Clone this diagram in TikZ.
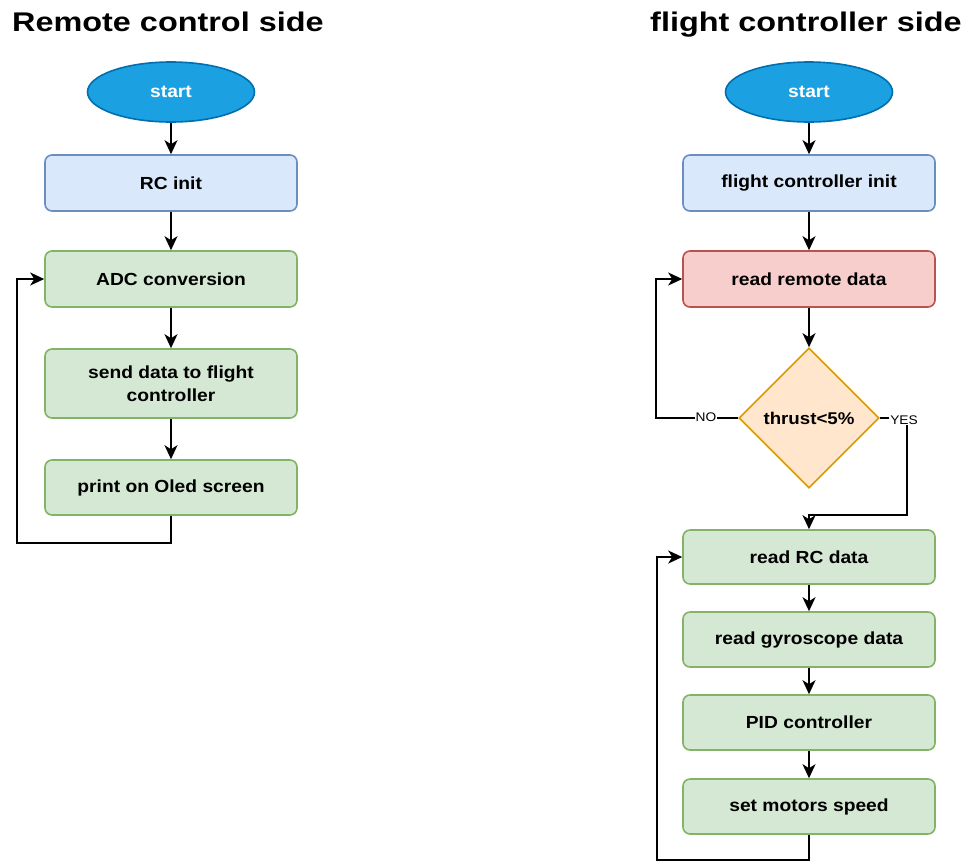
\documentclass[tikz,border=0pt]{standalone}
\usepackage{fontspec}
\setmainfont[FakeStretch=1.1]{Liberation Sans}
\newfontfamily\titlefont[FakeStretch=1.2]{Liberation Sans}
\usetikzlibrary{arrows.meta,shapes.geometric}
\definecolor{startfill}{HTML}{1BA1E2}
\definecolor{startdraw}{HTML}{006EAF}
\definecolor{bluefill}{HTML}{DAE8FC}
\definecolor{bluedraw}{HTML}{6C8EBF}
\definecolor{greenfill}{HTML}{D5E8D4}
\definecolor{greendraw}{HTML}{82B366}
\definecolor{redfill}{HTML}{F8CECC}
\definecolor{reddraw}{HTML}{B85450}
\definecolor{orangefill}{HTML}{FFE6CC}
\definecolor{orangedraw}{HTML}{D79B00}
\begin{document}
\begin{tikzpicture}[x=1pt,y=-1pt,
  box/.style={rectangle, rounded corners=7pt, minimum width=252pt, minimum height=56pt,
    line width=1.6pt, inner sep=0pt, align=center, font=\fontsize{17.5}{23}\selectfont\bfseries},
  bluebox/.style={box, fill=bluefill, draw=bluedraw},
  greenbox/.style={box, fill=greenfill, draw=greendraw},
  redbox/.style={box, fill=redfill, draw=reddraw},
  startnode/.style={ellipse, minimum width=167pt, minimum height=60pt, inner sep=0pt,
    fill=startfill, draw=startdraw, line width=1.6pt, text=white, font=\fontsize{17.5}{20}\selectfont\bfseries},
  decision/.style={diamond, minimum width=140pt, minimum height=140pt, inner sep=0pt, aspect=1,
    fill=orangefill, draw=orangedraw, line width=1.6pt, font=\fontsize{17}{20}\selectfont\bfseries},
  title/.style={anchor=base west, inner sep=0pt, font=\titlefont\fontsize{27}{32}\selectfont\bfseries},
  lbl/.style={fill=white, inner sep=1pt, font=\fontsize{12.5}{14}\selectfont},
  conn/.style={line width=2pt, -{Stealth[length=14pt,width=13pt,inset=4pt]}}
]
\useasboundingbox (0,0) rectangle (973,863);

% titles
\node[title] (t1) at (12,31) {Remote control side};
\node[title] (t2) at (650,31) {flight controller side};

% left column
\node[startnode] (s1) at (171,92) {start};
\node[bluebox] (rcinit) at (171,183) {RC init};
\node[greenbox] (adc) at (171,279) {ADC conversion};
\node[greenbox, minimum height=69pt] (send) at (171,383.5) {send data to flight\\controller};
\node[greenbox, minimum height=55pt] (print) at (171,487.5) {print on Oled screen};

\draw[conn] (s1) -- (rcinit);
\draw[conn] (rcinit) -- (adc);
\draw[conn] (adc) -- (send);
\draw[conn] (send) -- (print);
\coordinate (l1) at (171,543);
\coordinate (l2) at (17,543);
\coordinate (l3) at (17,279);
\draw[conn] (print.south) -- (l1) -- (l2) -- (l3) -- (adc.west);

% right column
\node[startnode] (s2) at (809,92) {start};
\node[bluebox] (fcinit) at (809,183) {flight controller init};
\node[redbox] (remote) at (809,279) {read remote data};
\node[decision] (thr) at (809,418) {thrust<5\%};
\node[greenbox, minimum height=54pt] (rcdata) at (809,557) {read RC data};
\node[greenbox, minimum height=55pt] (gyro) at (809,639.5) {read gyroscope data};
\node[greenbox, minimum height=55pt] (pid) at (809,722.5) {PID controller};
\node[greenbox, minimum height=55pt] (motors) at (809,806.5) {set motors speed};

\draw[conn] (s2) -- (fcinit);
\draw[conn] (fcinit) -- (remote);
\draw[conn] (remote) -- (thr);

% NO branch
\coordinate (n1) at (656,418);
\coordinate (n2) at (656,279);
\draw[conn] (thr.west) -- (n1) -- (n2) -- (remote.west);
\node[lbl] (nolbl) at (706,417) {NO};

% YES branch
\coordinate (y1) at (907,418);
\coordinate (y2) at (907,515);
\coordinate (y3) at (809,515);
\draw[conn] (thr.east) -- (y1) -- (y2) -- (y3) -- (rcdata.north);
\node[lbl] (yeslbl) at (904,420) {YES};

\draw[conn] (rcdata) -- (gyro);
\draw[conn] (gyro) -- (pid);
\draw[conn] (pid) -- (motors);

\coordinate (m1) at (809,860);
\coordinate (m2) at (657,860);
\coordinate (m3) at (657,557);
\draw[conn] (motors.south) -- (m1) -- (m2) -- (m3) -- (rcdata.west);
\end{tikzpicture}
\end{document}
